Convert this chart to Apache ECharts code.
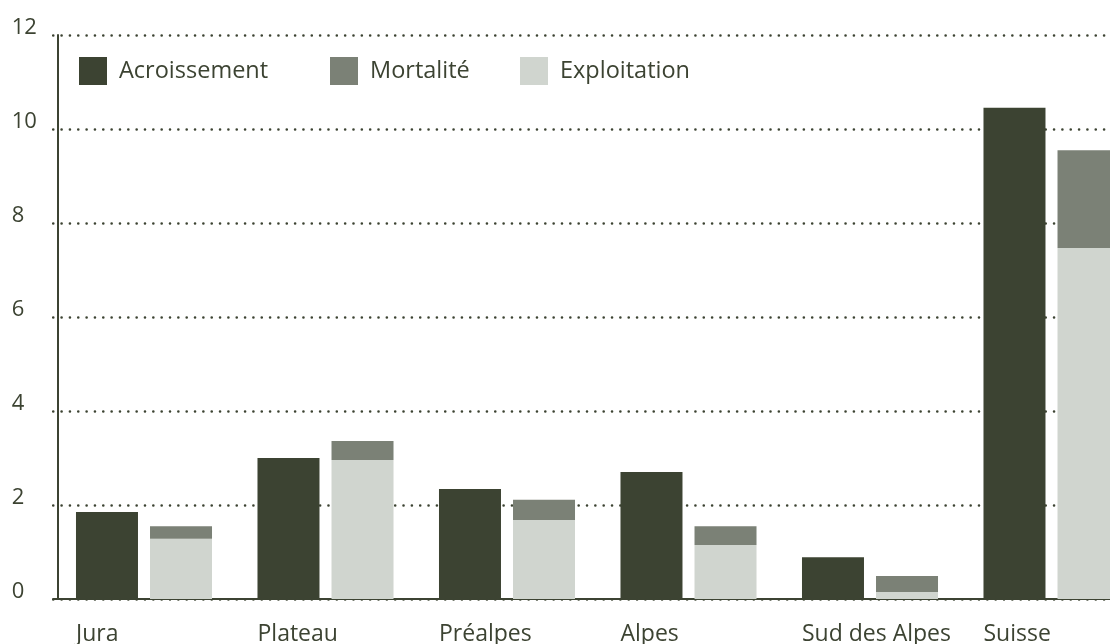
<!DOCTYPE html>
<html>
<head>
<meta charset="utf-8">
<script src="https://cdn.jsdelivr.net/npm/echarts@6/dist/echarts.min.js"></script>
<style>
  html, body { margin: 0; padding: 0; background: #fff; }
  #chart { width: 1110px; height: 644px; }
</style>
</head>
<body>
<div id="chart"></div>
<script>
// valeurs
const regions = ['Jura', 'Plateau', 'Préalpes', 'Alpes', 'Sud des Alpes', 'Suisse'];
const acroissement = [1.85, 3.00, 2.34, 2.70, 0.89, 10.45];
const exploitation = [1.28, 2.96, 1.68, 1.15, 0.15, 7.47];
const mortalite = [0.27, 0.40, 0.43, 0.40, 0.34, 2.08];
const yTicks = [0, 2, 4, 6, 8, 10, 12];

const dark = '#3c4332';
const fontFamily = '"Open Sans", sans-serif';

function legendAt(name, left) {
  return {
    left: left,
    top: 52,
    data: [name],
    icon: 'rect',
    itemWidth: 28,
    itemHeight: 28,
    selectedMode: false,
    textStyle: {
      color: dark,
      fontSize: 23.5,
      fontFamily: fontFamily,
      padding: [10, 0, 0, 7]
    }
  };
}

const chart = echarts.init(document.getElementById('chart'));
chart.setOption({
  animation: false,
  backgroundColor: '#fff',
  legend: [
    legendAt('Acroissement', 74),
    legendAt('Mortalité', 325),
    legendAt('Exploitation', 515)
  ],
  grid: {
    left: 53.25,
    top: 35,
    width: 1089,
    bottom: 45,
    outerBoundsMode: 'none'
  },
  xAxis: {
    type: 'category',
    data: regions,
    axisLine: { show: true, lineStyle: { color: dark, width: 2 } },
    axisTick: { show: false },
    axisLabel: {
      margin: 24,
      formatter: function (v) { return '{a|' + v + '}'; },
      rich: {
        a: {
          width: 136,
          align: 'left',
          color: dark,
          fontSize: 23,
          fontFamily: fontFamily
        }
      }
    }
  },
  yAxis: {
    type: 'value',
    min: yTicks[0],
    max: yTicks[yTicks.length - 1],
    interval: 2,
    offset: -4,
    axisLine: { show: true, lineStyle: { color: dark, width: 2 } },
    axisTick: { show: false },
    axisLabel: {
      align: 'left',
      verticalAlign: 'bottom',
      lineHeight: 14,
      margin: 45.5,
      color: dark,
      fontSize: 22,
      fontFamily: fontFamily
    },
    splitLine: {
      show: true,
      lineStyle: { color: dark, width: 2.6, type: [0.01, 8.33], cap: 'round' }
    }
  },
  series: [
    {
      name: 'Acroissement',
      type: 'bar',
      data: acroissement,
      barWidth: 62,
      barGap: '19.4%',
      itemStyle: { color: '#3c4332' }
    },
    {
      name: 'Exploitation',
      type: 'bar',
      stack: 'sortie',
      data: exploitation,
      barWidth: 62,
      itemStyle: { color: '#d0d5cf' }
    },
    {
      name: 'Mortalité',
      type: 'bar',
      stack: 'sortie',
      data: mortalite,
      barWidth: 62,
      itemStyle: { color: '#7b8176' }
    }
  ]
});
</script>
</body>
</html>
